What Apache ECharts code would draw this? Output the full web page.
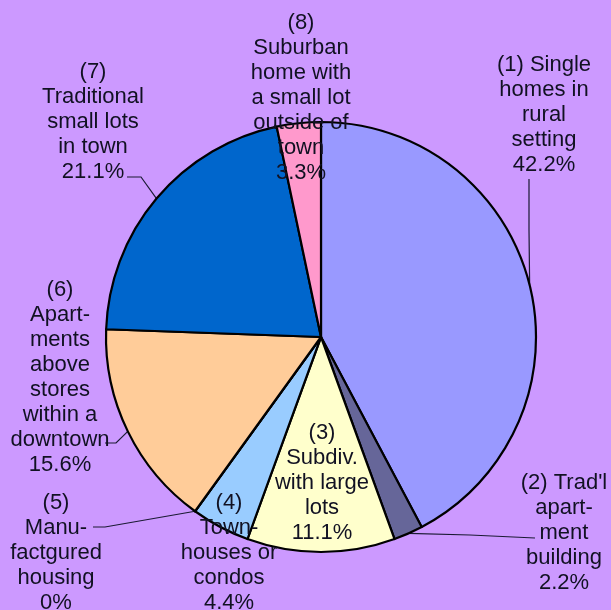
<!DOCTYPE html>
<html>
<head>
<meta charset="utf-8">
<script src="https://cdn.jsdelivr.net/npm/echarts@6/dist/echarts.min.js"></script>
<style>
html,body{margin:0;padding:0;background:#CC99FF;}
#chart{width:611px;height:610px;}
</style>
</head>
<body>
<div id="chart"></div>
<script>
// ---- data ----
const categories = [
  "(1) Single\nhomes in\nrural\nsetting",
  "(2) Trad'l\napart-\nment\nbuilding",
  "(3)\nSubdiv.\nwith large\nlots",
  "(4)\nTown-\nhouses or\ncondos",
  "(5)\nManu-\nfactgured\nhousing",
  "(6)\nApart-\nments\nabove\nstores\nwithin a\ndowntown",
  "(7)\nTraditional\nsmall lots\nin town",
  "(8)\nSuburban\nhome with\na small lot\noutside of\ntown"
];
const values = [42.2, 2.2, 11.1, 4.4, 0, 15.6, 21.1, 3.3];
const percentLabels = ["42.2%", "2.2%", "11.1%", "4.4%", "0%", "15.6%", "21.1%", "3.3%"];
const colors = ["#9999FF", "#666699", "#FFFFCC", "#99CCFF", "#FF99CC", "#FFCC99", "#0066CC", "#FF99CC"];

// ---- layout (label block positions: center x, top y) ----
const labelPos = [
  [544, 52], [564, 470], [322, 420], [229, 490], [56, 490], [60, 277], [93, 59], [301, 10]
];
const showLine = [true, true, false, false, true, true, true, false];
// bend / end points for leader lines
const lineEnds = [
  [[529, 230], [529, 179]],
  [[470, 535], [535, 538]],
  null, null,
  [[105, 527], [93, 527]],
  [[116, 443], [105, 443]],
  [[141, 177], [127, 177]],
  null
];

const chart = echarts.init(document.getElementById('chart'), null, {renderer: 'canvas'});
const data = values.map((v, i) => ({
  value: v,
  name: categories[i],
  itemStyle: {color: colors[i]},
  labelLine: {show: showLine[i]}
}));

chart.setOption({
  backgroundColor: '#CC99FF',
  animation: false,
  series: [{
    type: 'pie',
    center: [321, 337],
    radius: 215,
    startAngle: 90,
    clockwise: true,
    avoidLabelOverlap: false,
    stillShowZeroSum: true,
    minShowLabelAngle: 0,
    emphasis: {disabled: true},
    itemStyle: {borderColor: '#000', borderWidth: 2.2},
    label: {
      show: true,
      position: 'outside',
      color: '#111122',
      fontFamily: '"Liberation Sans", Arial, sans-serif',
      fontSize: 22,
      lineHeight: 25,
      align: 'center',
      formatter: p => p.name + '\n' + percentLabels[p.dataIndex]
    },
    labelLine: {
      show: true,
      length: 10,
      length2: 10,
      lineStyle: {color: '#1a1a33', width: 1.2}
    },
    labelLayout: function (params) {
      const i = params.dataIndex;
      const res = {
        x: labelPos[i][0],
        y: labelPos[i][1],
        align: 'center',
        verticalAlign: 'top'
      };
      if (lineEnds[i] && params.labelLinePoints) {
        const start = params.labelLinePoints[0];
        res.labelLinePoints = [start, lineEnds[i][0], lineEnds[i][1]];
      }
      return res;
    },
    data: data
  }]
});
</script>
</body>
</html>
